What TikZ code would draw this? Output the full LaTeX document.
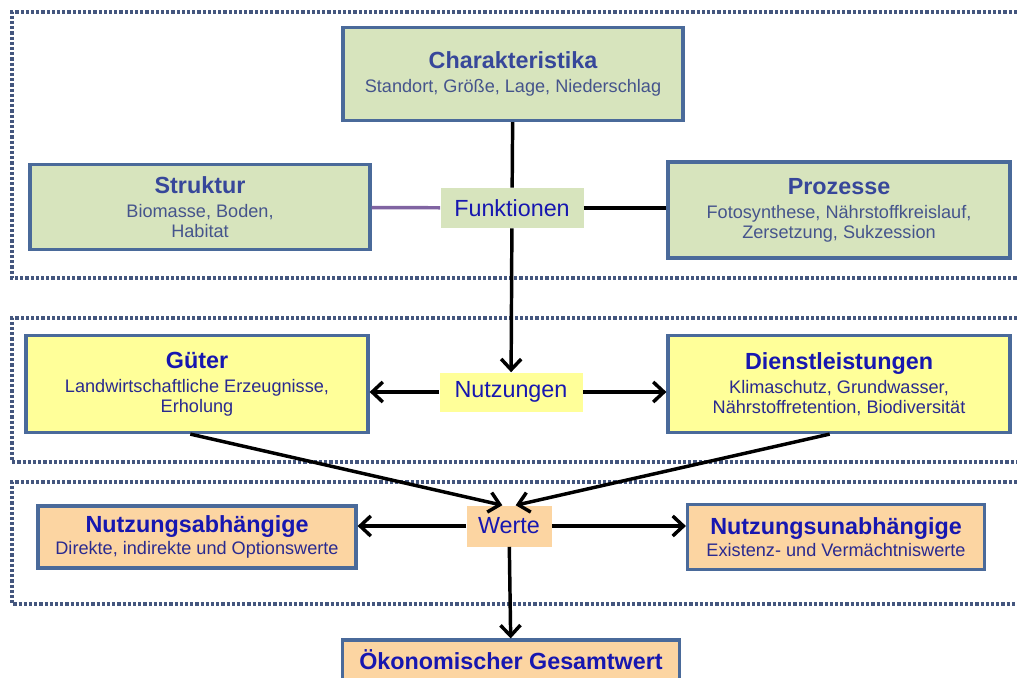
\documentclass[tikz,border=0pt]{standalone}
\usepackage{fontspec}
\setmainfont{Liberation Sans}
\usetikzlibrary{arrows.meta,positioning,calc}

\definecolor{boxgreen}{HTML}{D7E4BD}
\definecolor{boxyellow}{HTML}{FFFF99}
\definecolor{boxorange}{HTML}{FCD5A2}
\definecolor{boxedge}{HTML}{4A6A9A}
\definecolor{framegray}{HTML}{44567E}
\definecolor{linkpurple}{HTML}{8064A2}
\definecolor{hdgreen}{HTML}{37479A}
\definecolor{txgreen}{HTML}{45548C}
\definecolor{hdblue}{HTML}{1717B0}
\definecolor{txblue}{HTML}{2A2A90}

\newcommand{\hd}[1]{{\fontsize{17.5}{18}\selectfont\bfseries #1}}

\begin{document}
\begin{tikzpicture}[
    x=0.75pt, y=-0.75pt,
    box/.style={rectangle, draw=boxedge, line width=2.4pt, align=center, inner sep=2pt,
        font=\fontsize{13.6}{15}\selectfont},
    gbox/.style={box, fill=boxgreen, text=txgreen},
    ybox/.style={box, fill=boxyellow, text=txblue},
    obox/.style={box, fill=boxorange, text=txblue},
    hub/.style={rectangle, inner sep=2pt, font=\fontsize{17.5}{18}\selectfont, text=hdblue},
    frame/.style={draw=framegray, line width=2.8pt, dash pattern=on 2.4pt off 1.5pt},
    link/.style={line width=2.6pt},
    arr/.style={-{Straight Barb[length=8pt, width=15pt]}, line width=2.6pt},
]
    \useasboundingbox (0,0) rectangle (1017,678);
    \clip (0,0) rectangle (1017,678);

    % dotted frames, open to the right
    \draw[frame] (1017,12) -- (12,12) -- (12,278) -- (1017,278);
    \draw[frame] (1017,318) -- (12,318) -- (12,462) -- (1017,462);
    \draw[frame] (1017,482) -- (12,482) -- (12,604) -- (1017,604);

    % Funktionen
    \node[gbox, minimum width=255pt, minimum height=69.75pt] (charak) at (513,74)
        {\textcolor{hdgreen}{\hd{Charakteristika}}\\[3pt] Standort, Größe, Lage, Niederschlag};
    \node[hub, fill=boxgreen, minimum width=107.25pt, minimum height=30pt] (funkt) at (512,208) {Funktionen};
    \node[gbox, minimum width=255pt, minimum height=63.75pt] (struktur) at (200,207)
        {\textcolor{hdgreen}{\hd{Struktur}}\\[3pt] Biomasse, Boden,\\ Habitat};
    \node[gbox, minimum width=256.5pt, minimum height=72pt] (prozesse) at (839,210)
        {\textcolor{hdgreen}{\hd{Prozesse}}\\[3pt] Fotosynthese, Nährstoffkreislauf,\\ Zersetzung, Sukzession};

    % Nutzungen
    \node[hub, fill=boxyellow, minimum width=107.25pt, minimum height=29.25pt] (nutz) at (511,392) {Nutzungen};
    \node[ybox, minimum width=256.5pt, minimum height=72.75pt] (gueter) at (197,384)
        {\textcolor{hdblue}{\hd{Güter}}\\[3pt] Landwirtschaftliche Erzeugnisse,\\ Erholung};
    \node[ybox, minimum width=256.5pt, minimum height=72.75pt] (dienst) at (839,384)
        {\textcolor{hdblue}{\hd{Dienstleistungen}}\\[3pt] Klimaschutz, Grundwasser,\\ Nährstoffretention, Biodiversität};

    % Werte
    \node[hub, fill=boxorange, minimum width=63.75pt, minimum height=30.75pt] (werte) at (509,526) {Werte};
    \node[obox, minimum width=238.5pt, minimum height=46.5pt] (abh) at (197,537)
        {\textcolor{hdblue}{\hd{Nutzungsabhängige}}\\[1pt] Direkte, indirekte und Optionswerte};
    \node[obox, minimum width=222.75pt, minimum height=48.75pt] (unabh) at (836,537)
        {\textcolor{hdblue}{\hd{Nutzungsunabhängige}}\\[1pt] Existenz- und Vermächtniswerte};
    \node[obox, minimum width=252.75pt, minimum height=30pt, text=hdblue] (gesamt) at (511,660)
        {\hd{Ökonomischer Gesamtwert}};

    \draw[link] (charak) -- (funkt);
    \draw[link, linkpurple] (struktur) -- (funkt);
    \draw[link] (funkt.east) -- (funkt.east -| prozesse.west);
    \draw[arr] (funkt) -- (nutz);
    \draw[arr] (nutz.west) -- (nutz.west -| gueter.east);
    \draw[arr] (nutz.east) -- (nutz.east -| dienst.west);
    \draw[arr] ([xshift=-5pt]gueter.south) -- ([xshift=-5pt]werte.north);
    \draw[arr] ([xshift=-7pt]dienst.south) -- ([xshift=5pt]werte.north);
    \draw[arr] (werte.west) -- (werte.west -| abh.east);
    \draw[arr] (werte.east) -- (werte.east -| unabh.west);
    \draw[arr] (werte) -- (gesamt);
\end{tikzpicture}
\end{document}
